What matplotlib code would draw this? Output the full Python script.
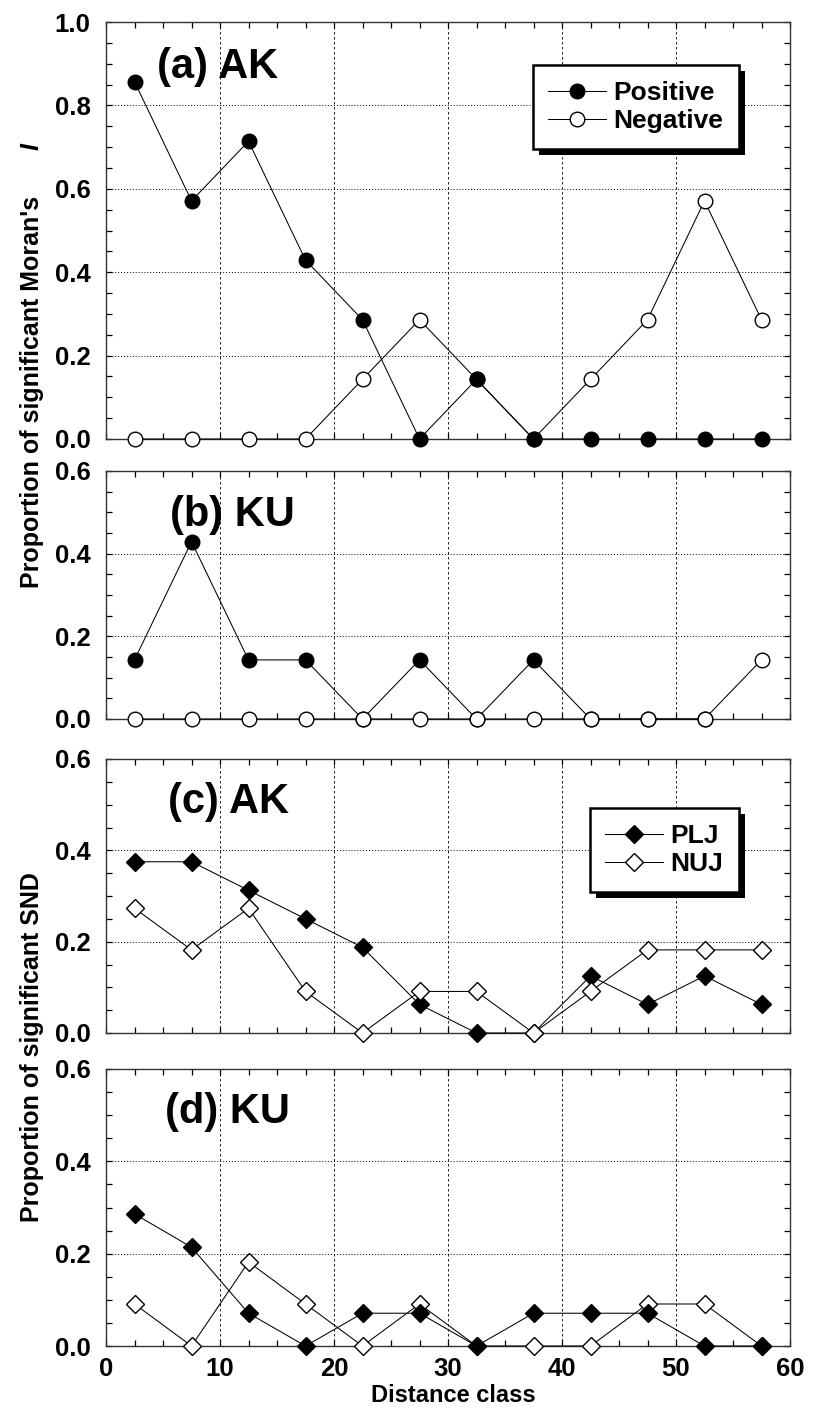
import matplotlib
matplotlib.use("Agg")
import matplotlib.pyplot as plt
from matplotlib.ticker import MultipleLocator
from matplotlib.patches import Rectangle
import numpy as np

# ---------------- data ----------------
distance_class = [2.5, 7.5, 12.5, 17.5, 22.5, 27.5, 32.5, 37.5, 42.5, 47.5, 52.5, 57.5]

ak_positive = [0.857, 0.571, 0.714, 0.429, 0.286, 0.0, 0.143, 0.0, 0.0, 0.0, 0.0, 0.0]
ak_negative = [0.0, 0.0, 0.0, 0.0, 0.143, 0.286, 0.143, 0.0, 0.143, 0.286, 0.571, 0.286]

ku_positive = [0.143, 0.429, 0.143, 0.143, 0.0, 0.143, 0.0, 0.143, 0.0, 0.0, 0.0, np.nan]
ku_negative = [0.0, 0.0, 0.0, 0.0, 0.0, 0.0, 0.0, 0.0, 0.0, 0.0, 0.0, 0.143]

ak_plj = [0.375, 0.375, 0.3125, 0.25, 0.1875, 0.0625, 0.0, 0.0, 0.125, 0.0625, 0.125, 0.0625]
ak_nuj = [0.273, 0.182, 0.273, 0.091, 0.0, 0.091, 0.091, 0.0, 0.091, 0.182, 0.182, 0.182]

ku_plj = [0.286, 0.214, 0.071, 0.0, 0.071, 0.071, 0.0, 0.071, 0.071, 0.071, 0.0, 0.0]
ku_nuj = [0.091, 0.0, 0.182, 0.091, 0.0, 0.091, 0.0, 0.0, 0.0, 0.091, 0.091, 0.0]

panel_labels = ["(a) AK", "(b) KU", "(c) AK", "(d) KU"]
moran_legend = ["Positive", "Negative"]
snd_legend = ["PLJ", "NUJ"]
x_ticks = [0, 10, 20, 30, 40, 50, 60]

FONT = ["Liberation Sans", "DejaVu Sans"]

fig = plt.figure(figsize=(8.15, 14.12), dpi=100)

def pos(top, bottom, left=106, right=790, W=815, H=1412):
    return [left / W, 1 - bottom / H, (right - left) / W, (bottom - top) / H]

axa = fig.add_axes(pos(22, 439))
axb = fig.add_axes(pos(471, 719))
axc = fig.add_axes(pos(759, 1033))
axd = fig.add_axes(pos(1069, 1346))
axes = [axa, axb, axc, axd]

TICK_FS = 18.5

def style(ax, ymax, show_x):
    ax.set_xlim(0, 60)
    ax.set_ylim(0, ymax)
    ax.xaxis.set_major_locator(MultipleLocator(10))
    ax.xaxis.set_minor_locator(MultipleLocator(2.5))
    ax.yaxis.set_major_locator(MultipleLocator(0.2))
    ax.yaxis.set_minor_locator(MultipleLocator(0.05))
    ax.tick_params(which="both", direction="in", top=True, right=True,
                   length=4.5, width=0.9, color="black")
    ax.tick_params(axis="y", which="major", pad=11)
    ax.tick_params(axis="x", which="major", pad=8)
    for s in ax.spines.values():
        s.set_linewidth(1.0)
        s.set_color("#333333")
    for v in [10, 20, 30, 40, 50]:
        ax.axvline(v, color="black", lw=0.6, ls=(0, (3, 3)), zorder=0)
    yt = np.arange(0.2, ymax - 0.001, 0.2)
    for h in yt:
        ax.axhline(h, color="black", lw=0.7, ls=(0, (1, 2)), zorder=0)
    ax.set_yticks(np.round(np.arange(0, ymax + 0.001, 0.2), 1))
    ax.set_yticklabels([f"{t:.1f}" for t in np.arange(0, ymax + 0.001, 0.2)],
                       fontfamily=FONT, fontweight="bold", fontsize=TICK_FS)
    ax.set_xticks(x_ticks)
    if show_x:
        ax.set_xticklabels([str(t) for t in x_ticks], fontfamily=FONT,
                           fontweight="bold", fontsize=TICK_FS)
    else:
        ax.set_xticklabels([])

style(axa, 1.0, False)
style(axb, 0.6, False)
style(axc, 0.6, False)
style(axd, 0.6, True)

LW = 0.75
CIRC = dict(marker="o", ms=10.5, mew=1.0, mec="black", color="black", lw=LW, clip_on=False)
DIAM = dict(marker="D", ms=9.5, mew=1.0, mec="black", color="black", lw=LW, clip_on=False)

# (a)
axa.plot(distance_class, ak_negative, mfc="white", zorder=3, label=moran_legend[1], **CIRC)
axa.plot(distance_class, ak_positive, mfc="black", zorder=4, label=moran_legend[0], **CIRC)
# (b)
axb.plot(distance_class, ku_positive, mfc="black", zorder=3, **CIRC)
axb.plot(distance_class, ku_negative, mfc="white", zorder=4, **CIRC)
# (c)
axc.plot(distance_class, ak_plj, mfc="black", zorder=3, label=snd_legend[0], **DIAM)
axc.plot(distance_class, ak_nuj, mfc="white", zorder=4, label=snd_legend[1], **DIAM)
# (d)
axd.plot(distance_class, ku_nuj, mfc="white", zorder=3, **DIAM)
axd.plot(distance_class, ku_plj, mfc="black", zorder=4, **DIAM)

# panel labels
label_pos = [(4.5, 0.892), (5.6, 0.494), (5.4, 0.506), (5.2, 0.507)]
for ax, lab, (lx, ly) in zip(axes, panel_labels, label_pos):
    ax.text(lx, ly, lab, fontfamily=FONT, fontweight="bold", fontsize=30,
            ha="left", va="center", zorder=5)

# legends
def make_legend(ax, order, anchor):
    h, l = ax.get_legend_handles_labels()
    hl = sorted(zip(h, l), key=lambda t: order.index(t[1]))
    leg = ax.legend([t[0] for t in hl], [t[1] for t in hl], loc="upper right",
                    bbox_to_anchor=anchor, borderaxespad=0.0, frameon=True,
                    fancybox=False, shadow=False,
                    handlelength=2.2, handletextpad=0.25, borderpad=0.6,
                    labelspacing=0.15,
                    prop={"family": FONT, "weight": "bold", "size": 19})
    fr = leg.get_frame()
    fr.set_edgecolor("black")
    fr.set_linewidth(1.8)
    fr.set_facecolor("white")
    fr.set_alpha(1.0)
    leg.set_zorder(10)
    return leg

legs = [(axa, make_legend(axa, moran_legend, (0.925, 0.897))),
        (axc, make_legend(axc, snd_legend, (0.925, 0.821)))]

# axis labels
fig.text(32 / 815, 1 - 392 / 1412, "Proportion of significant Moran's",
         rotation=90, ha="center", va="center", fontfamily=FONT,
         fontweight="bold", fontsize=18)
fig.text(32 / 815, 1 - 147 / 1412, "I", rotation=90, ha="center", va="center",
         fontfamily=FONT, fontweight="bold", fontstyle="italic", fontsize=18)
fig.text(32 / 815, 1 - 1047 / 1412, "Proportion of significant SND",
         rotation=90, ha="center", va="center", fontfamily=FONT,
         fontweight="bold", fontsize=18)
fig.text(453 / 815, 1 - 1396 / 1412, "Distance class", ha="center", va="center",
         fontfamily=FONT, fontweight="bold", fontsize=17)

# black drop shadow behind legends
fig.canvas.draw()
for ax, leg in legs:
    bb = leg.get_window_extent()
    sh = Rectangle((bb.x0 + 6, bb.y0 - 6), bb.width, bb.height, transform=None,
                   facecolor="black", edgecolor="none", zorder=9, clip_on=False)
    ax.add_artist(sh)

fig.savefig("out.png", dpi=100, facecolor="white")
